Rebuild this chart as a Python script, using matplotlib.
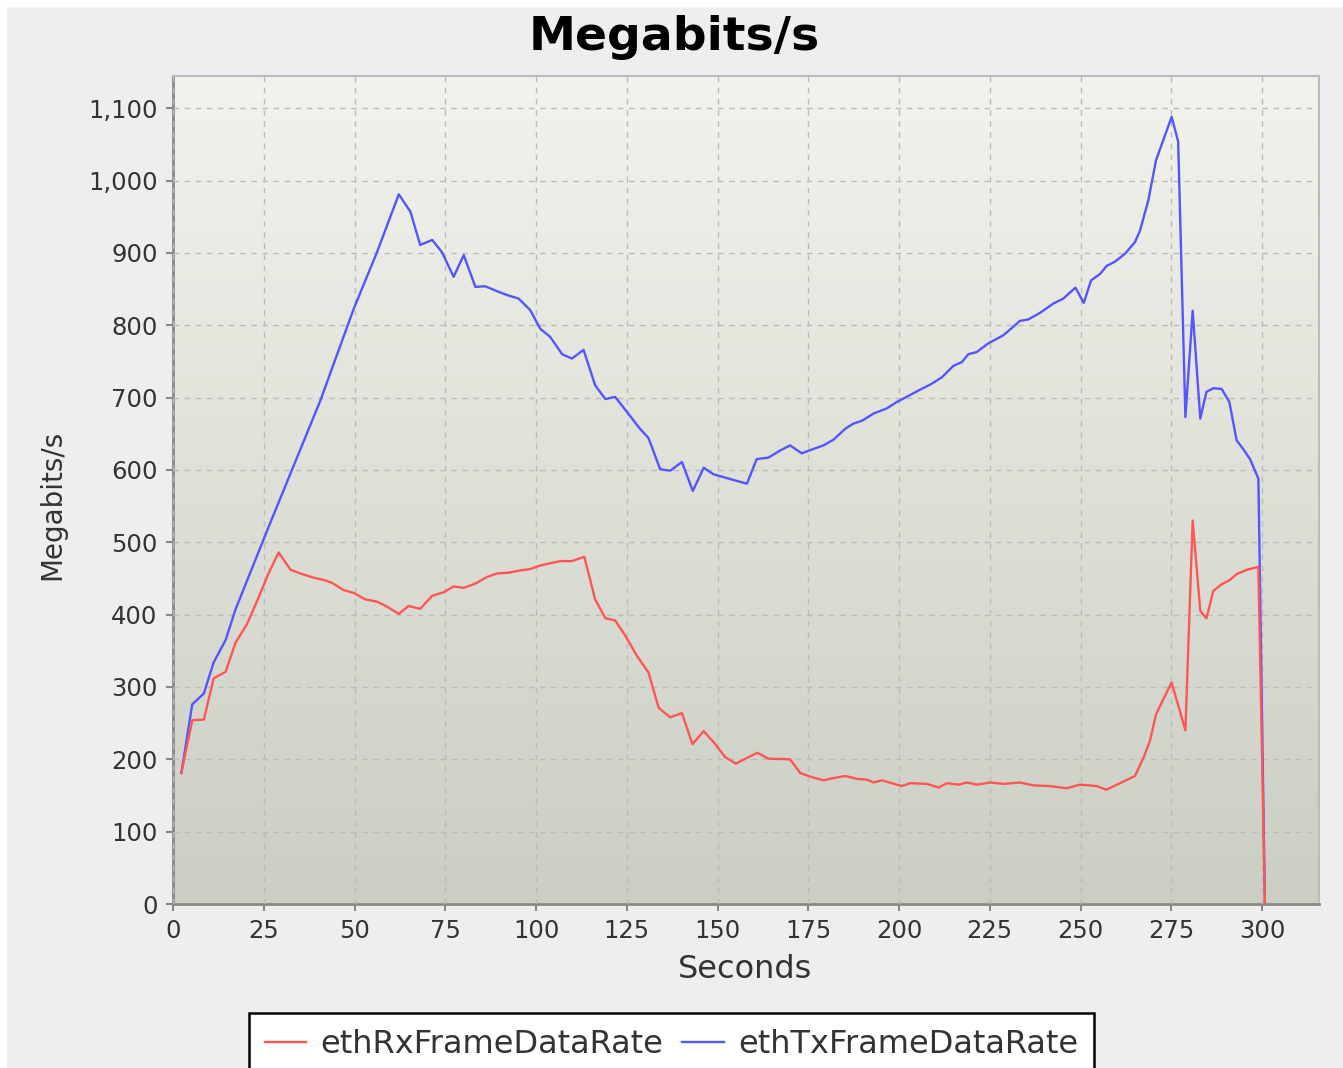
import numpy as np
import matplotlib
matplotlib.use('Agg')
import matplotlib.pyplot as plt
from matplotlib.patches import Rectangle
from matplotlib.ticker import FuncFormatter, MultipleLocator

# ethRxFrameDataRate (red)
rx_sec = [2.3, 5.3, 8.5, 11.2, 14.5, 17.2, 20.4, 23.6, 26.4, 29.1, 32.4, 35.6, 38.8, 41.5, 43.8,
          47.0, 49.8, 53.0, 56.2, 59.0, 62.2, 64.9, 68.1, 71.4, 74.6, 77.3, 80.1, 83.3, 86.5, 89.3,
          92.5, 95.5, 98.4, 101.2, 103.9, 106.7, 109.9, 113.3, 116.3, 119.1, 121.8, 124.6, 127.8,
          131.0, 133.8, 137.0, 140.2, 143.1, 146.2, 149.2, 152.1, 155.1, 158.1, 161.0, 164.0, 170.0,
          172.8, 176.2, 179.2, 181.9, 185.2, 188.4, 191.1, 193.0, 195.3, 198.0, 200.8, 203.1, 207.7,
          210.9, 213.2, 216.4, 218.7, 221.4, 225.1, 228.7, 233.3, 237.0, 241.6, 246.2, 249.9, 254.5,
          257.1, 260.9, 265.0, 267.5, 269.1, 270.8, 272.8, 275.1, 278.9, 280.9, 283.0, 284.7, 286.6,
          288.9, 291.2, 293.0, 295.8, 299.0, 300.8]
rx_val = [181, 254, 255, 312, 321, 361, 387, 424, 458, 486, 462, 456, 451, 448, 444,
          434, 430, 421, 418, 411, 401, 412, 408, 426, 431, 439, 437, 443, 452, 457,
          458, 461, 463, 468, 471, 474, 474, 480, 421, 395, 392, 371, 343,
          320, 271, 258, 264, 221, 239, 222, 203, 194, 202, 209, 201, 200,
          181, 175, 171, 174, 177, 173, 172, 168, 171, 167, 163, 167, 166,
          161, 167, 165, 168, 165, 168, 166, 168, 164, 163, 160, 165, 163,
          158, 167, 177, 204, 225, 262, 283, 306, 240, 530, 405, 395, 433,
          442, 448, 456, 462, 466, 0]

# ethTxFrameDataRate (blue)
tx_sec = [2.3, 5.3, 8.5, 11.2, 14.5, 17.2, 26.4, 40.6, 49.8, 56.2, 62.2, 65.4, 68.1, 71.4, 74.1,
          77.3, 80.1, 83.3, 86.0, 89.3, 92.5, 95.2, 98.4, 101.2, 103.9, 107.2, 109.9, 113.1, 116.3,
          119.1, 121.8, 125.1, 128.3, 131.0, 134.2, 137.0, 140.2, 143.2, 146.2, 148.9, 151.7, 158.1,
          160.8, 164.0, 167.3, 170.0, 173.2, 176.4, 179.2, 182.0, 185.2, 187.4, 189.8, 193.0, 196.6,
          199.4, 202.1, 205.8, 208.6, 211.8, 215.0, 217.3, 219.1, 221.4, 224.6, 228.7, 231.5, 233.3,
          235.6, 238.8, 242.5, 245.3, 248.6, 250.9, 252.9, 255.4, 257.2, 259.5, 262.3, 265.0, 266.4,
          268.7, 270.8, 272.8, 275.1, 276.9, 278.9, 280.9, 283.0, 284.7, 286.6, 288.9, 291.0, 293.0,
          294.8, 296.7, 299.0, 300.8]
tx_val = [181, 276, 291, 334, 365, 407, 522, 696, 823, 901, 981, 957, 911, 918, 901,
          867, 897, 853, 854, 847, 841, 837, 821, 795, 784, 760, 754, 766, 717,
          698, 701, 680, 659, 644, 601, 599, 611, 571, 603, 594, 590, 581,
          615, 617, 627, 634, 623, 629, 634, 642, 657, 664, 668, 678, 685,
          694, 701, 711, 718, 728, 744, 749, 760, 763, 775, 786, 798, 806,
          808, 817, 830, 837, 852, 831, 862, 871, 882, 888, 899, 915, 931,
          973, 1028, 1056, 1088, 1054, 673, 820, 671, 708, 713, 712, 694, 641,
          629, 615, 588, 0]

x_ticks = list(range(0, 301, 25))
y_ticks = list(range(0, 1101, 100))

plt.rcParams['font.family'] = ['DejaVu Sans']

fig = plt.figure(figsize=(13.43, 10.68), dpi=100, facecolor='#EEEEEE')
# thin white strip at top/left like the original screenshot
fig.add_artist(Rectangle((0, 0), 6 / 1343, 1, transform=fig.transFigure, color='white', zorder=-5))
fig.add_artist(Rectangle((0, 1 - 6 / 1068), 1, 6 / 1068, transform=fig.transFigure, color='white', zorder=-5))

ax = fig.add_axes([173 / 1343, 1 - 904 / 1068, (1319 - 173) / 1343, (904 - 75.7) / 1068])

# gradient plot background
top = np.array([243, 243, 237]) / 255.0
bot = np.array([202, 206, 195]) / 255.0
t = np.linspace(0, 1, 256)[:, None]
grad = (top[None, :] * (1 - t) + bot[None, :] * t)[:, None, :]
ax.imshow(grad, extent=[0, 1, 0, 1], transform=ax.transAxes, aspect='auto', zorder=0)

l_tx, = ax.plot(tx_sec, tx_val, color='#5555FF', lw=1.7, zorder=3)
l_rx, = ax.plot(rx_sec, rx_val, color='#FF5555', lw=1.7, zorder=4)

ax.set_xlim(0, 315.7)
ax.set_ylim(0, 1145)
ax.set_xticks(x_ticks)
ax.set_yticks(y_ticks)
ax.yaxis.set_major_formatter(FuncFormatter(lambda v, p: '{:,}'.format(int(v))))
ax.grid(True, color='#BBBBBB', linestyle=(0, (4, 4)), lw=1.0, zorder=1)
ax.set_axisbelow(False)

for s in ['left', 'bottom']:
    ax.spines[s].set_color('#888888')
    ax.spines[s].set_linewidth(2)
for s in ['top', 'right']:
    ax.spines[s].set_color('#BBBBBB')
    ax.spines[s].set_linewidth(1.5)

ax.tick_params(axis='both', direction='out', length=5, width=1.5, color='#888888',
               labelsize=17.5, labelcolor='#333333', pad=6)

fig.text(0.502, 1 - 38 / 1068, 'Megabits/s', fontsize=34, fontweight='bold',
         ha='center', va='center', color='black')
fig.text(745 / 1343, 1 - 970 / 1068, 'Seconds', fontsize=23, ha='center', va='center', color='#333333')
fig.text(52 / 1343, 1 - 505 / 1068, 'Megabits/s', fontsize=20, rotation=90,
         ha='center', va='center', color='#333333')

leg = fig.legend([l_rx, l_tx], ['ethRxFrameDataRate', 'ethTxFrameDataRate'],
                 loc='upper center', bbox_to_anchor=(0.5, 1 - 1013 / 1068),
                 ncol=2, fontsize=23, frameon=True, fancybox=False, shadow=False,
                 handlelength=1.3, handletextpad=0.45, columnspacing=0.6,
                 borderpad=0.5, borderaxespad=0)
leg.get_frame().set_edgecolor('black')
leg.get_frame().set_linewidth(1.8)
leg.get_frame().set_facecolor('white')
leg.get_frame().set_alpha(1)
for txt in leg.get_texts():
    txt.set_color('#333333')

fig.savefig('out.png', dpi=100, facecolor=fig.get_facecolor())
